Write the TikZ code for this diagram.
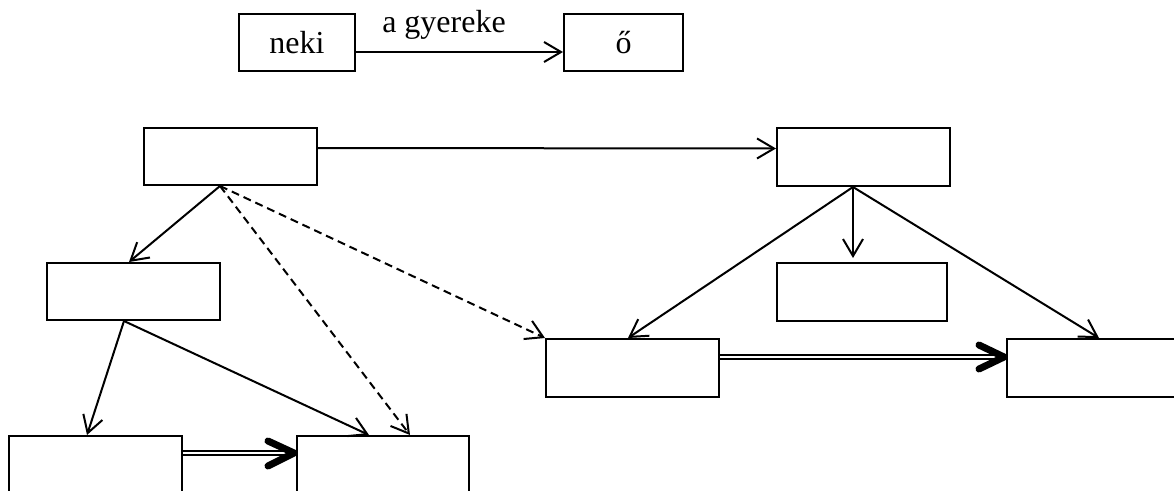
\documentclass[tikz,border=0pt]{standalone}
\usepackage{fontspec}
\setmainfont{Liberation Serif}
\usetikzlibrary{arrows.meta,calc}
\begin{document}
\begin{tikzpicture}[x=1pt,y=-1pt,
  box/.style={draw, line width=2pt, anchor=north west, inner sep=0pt, minimum width=173pt, minimum height=57pt, font=\fontsize{32}{36}\selectfont},
  conn/.style={line width=2pt, -{Straight Barb[length=17pt,width=20pt,line width=2pt]}},
  dconn/.style={conn, dash pattern=on 8pt off 5pt},
  dbl/.style={line width=2pt, double, double distance=2.6pt},
  bighead/.style={line width=7pt, line cap=round, line join=round}
]
\clip (0,0) rectangle (1174,490);
\useasboundingbox (0,0) rectangle (1174,490);
% top legend
\node[box, minimum width=116pt] (neki) at (238,13) {neki};
\node[box, minimum width=119pt] (o) at (563,13) {ő};
\draw[conn] ([yshift=-9.5pt]neki.east) -- ([yshift=-9.5pt]o.west);
\node[font=\fontsize{32}{36}\selectfont, inner sep=0pt] (lab) at (444,25) {a gyereke};
% boxes
\node[box] (A) at (143,127) {};
\node[box, minimum height=58pt] (B) at (776,127) {};
\node[box] (C) at (46,262) {};
\node[box, minimum width=170pt, minimum height=58pt] (D) at (776,262) {};
\node[box, minimum height=58pt] (E) at (545,338) {};
\node[box, minimum height=58pt] (F) at (1006,338) {};
\node[box] (G) at (8,435) {};
\node[box, minimum width=172pt] (H) at (296,435) {};
% connectors
\draw[conn] ([yshift=8.5pt]A.east) -- ([yshift=8.5pt]B.west);
\draw[conn] ([xshift=-10.5pt]A.south) -- ([xshift=-4.5pt]C.north);
\draw[dconn] ([xshift=-10.5pt]A.south) -- ([xshift=27pt]H.north);
\draw[dconn] ([xshift=-10.5pt]A.south) -- (E.north west);
\draw[conn] ([xshift=-9.5pt]C.south) -- ([xshift=-8.5pt]G.north);
\draw[conn] ([xshift=-9.5pt]C.south) -- ([xshift=-14pt]H.north);
\draw[conn] ([xshift=-10.5pt]B.south) -- ([xshift=-9pt,yshift=4pt]D.north);
\draw[conn] ([xshift=-10.5pt]B.south) -- ([xshift=-4.5pt]E.north);
\draw[conn] ([xshift=-10.5pt]B.south) -- ([xshift=5.5pt]F.north);
% double arrows
\draw[dbl] ([yshift=-18pt]G.north east) -- ([xshift=-5pt,yshift=-18pt]H.north west);
\draw[bighead] ([xshift=-28pt,yshift=-6pt]H.north west) -- ([xshift=-2pt,yshift=-18pt]H.north west) -- ([xshift=-28pt,yshift=-31pt]H.north west);
\draw[dbl] ([yshift=-19pt]E.north east) -- ([xshift=-5pt,yshift=-19pt]F.north west);
\draw[bighead] ([xshift=-27pt,yshift=-7pt]F.north west) -- ([xshift=-2pt,yshift=-19pt]F.north west) -- ([xshift=-27pt,yshift=-31pt]F.north west);
\end{tikzpicture}
\end{document}
